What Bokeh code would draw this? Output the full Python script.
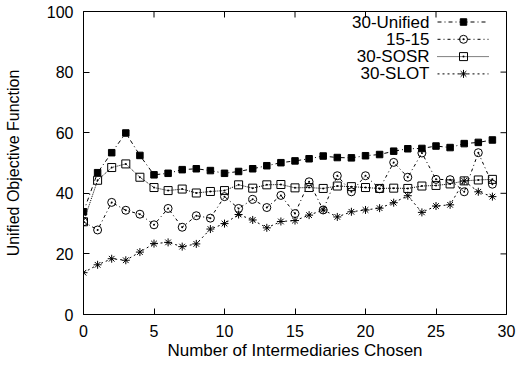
from bokeh.plotting import figure
from bokeh.models import Range1d, FixedTicker, Label
from bokeh.embed import file_html
from bokeh.resources import INLINE

# ---------------- data ----------------
x_vals = list(range(30))
series_names = ["30-Unified", "15-15", "30-SOSR", "30-SLOT"]
unified = [33.9, 46.8, 53.4, 59.9, 52.5, 46.1, 46.6, 47.8, 48.1, 47.5,
           46.6, 47.2, 48.1, 49.1, 50.1, 50.7, 51.4, 52.3, 51.8, 51.7,
           52.4, 52.8, 53.9, 54.7, 54.8, 55.6, 55.1, 56.4, 56.8, 57.6]
s15_15 = [30.6, 27.9, 37.0, 34.4, 33.1, 29.6, 35.0, 28.8, 32.6, 31.8,
          38.9, 35.0, 38.0, 35.3, 39.3, 33.3, 43.8, 34.5, 45.8, 40.5,
          45.8, 41.5, 50.2, 45.3, 53.3, 44.6, 44.5, 40.5, 53.4, 43.0]
sosr = [30.6, 44.3, 48.5, 49.7, 45.3, 41.9, 40.9, 41.4, 40.1, 40.6,
        40.9, 42.8, 41.7, 42.8, 42.9, 41.8, 41.9, 41.6, 42.4, 42.2,
        41.9, 41.6, 41.7, 41.6, 42.4, 42.6, 43.1, 44.1, 44.4, 44.6]
slot = [13.8, 16.4, 18.4, 17.9, 20.6, 23.4, 23.8, 22.4, 23.3, 28.2,
        30.0, 33.0, 31.2, 28.6, 30.7, 31.0, 32.8, 34.5, 32.2, 33.9,
        34.5, 35.1, 36.9, 39.2, 33.7, 35.8, 36.2, 44.1, 40.5, 38.9]
x_ticks = [0, 5, 10, 15, 20, 25, 30]
y_ticks = [0, 20, 40, 60, 80, 100]
x_title = "Number of Intermediaries Chosen"
y_title = "Unified Objective Function"

# ---------------- layout ----------------
W, H = 517, 371
BL, BR, BT, BB = 83, 11, 11, 57
X0, X1, Y0, Y1 = 0, 30, 0, 100
FONT = "Liberation Sans"
FS_TICK = "16px"
FS_TEXT = "17px"
TICK = 6

p = figure(width=W, height=H, output_backend="svg", toolbar_location=None,
           x_range=Range1d(X0, X1), y_range=Range1d(Y0, Y1),
           min_border_left=BL, min_border_right=BR, min_border_top=BT,
           min_border_bottom=BB)
p.background_fill_color = "white"
p.border_fill_color = "white"
p.grid.visible = False
p.outline_line_color = "black"
p.outline_line_width = 1
p.outline_line_alpha = 1

for ax, ticks in ((p.xaxis[0], x_ticks), (p.yaxis[0], y_ticks)):
    ax.ticker = FixedTicker(ticks=ticks)
    ax.major_tick_in = TICK
    ax.major_tick_out = 0
    ax.minor_tick_line_color = None
    ax.axis_line_color = "black"
    ax.major_tick_line_color = "black"
    ax.major_label_text_font = FONT
    ax.major_label_text_font_size = FS_TICK
    ax.major_label_text_color = "black"
    ax.axis_label_text_font = FONT
    ax.axis_label_text_font_style = "normal"
    ax.axis_label_text_color = "black"

p.xaxis[0].axis_label = x_title
p.yaxis[0].axis_label = y_title
p.xaxis[0].axis_label_text_font_size = FS_TEXT
p.yaxis[0].axis_label_text_font_size = "16px"
p.xaxis[0].major_label_standoff = 10
p.xaxis[0].axis_label_standoff = 1
p.yaxis[0].major_label_standoff = 10
p.yaxis[0].axis_label_standoff = 22

FW = W - BL - BR
FH = H - BT - BB
dx_tick = TICK / FW * (X1 - X0)
dy_tick = TICK / FH * (Y1 - Y0)

# mirrored inward ticks on the right and top edges
p.segment(x0=[X1] * len(y_ticks), y0=y_ticks,
          x1=[X1 - dx_tick] * len(y_ticks), y1=y_ticks,
          line_color="black", line_width=1)
p.segment(x0=x_ticks, y0=[Y1] * len(x_ticks),
          x1=x_ticks, y1=[Y1 - dy_tick] * len(x_ticks),
          line_color="black", line_width=1)

# ---------------- series ----------------
styles = [
    dict(dash="4 3 1 3", marker="square", size=6.5, fill="black"),
    dict(dash="3 3 1 3", marker="circle_dot", size=8, fill=None),
    dict(dash="1 1", marker="square_dot", size=8, fill=None),
    dict(dash="2 3", marker="asterisk", size=8, fill=None),
]
all_series = [unified, s15_15, sosr, slot]

for ys, st in zip(all_series, styles):
    p.line(x_vals, ys, line_color="black", line_width=1, line_dash=st["dash"])
    p.scatter(x_vals, ys, marker=st["marker"], size=st["size"],
              line_color="black", line_width=1, fill_color=st["fill"])

# ---------------- legend (label left, sample right) ----------------
def px_to_x(px):
    return X0 + (px - BL) / FW * (X1 - X0)

def py_to_y(py):
    return Y0 + (H - BB - py) / FH * (Y1 - Y0)

row0, row_step = 21.5, 17.3
text_right, samp_l, samp_r, samp_m = 429, 437, 488, 463
for i, (name, st) in enumerate(zip(series_names, styles)):
    yy = py_to_y(row0 + i * row_step)
    p.add_layout(Label(x=px_to_x(text_right), y=yy, text=name,
                       text_align="right", text_baseline="middle",
                       text_font=FONT, text_font_size=FS_TEXT,
                       text_color="black"))
    p.line([px_to_x(samp_l), px_to_x(samp_r)], [yy, yy], line_color="black",
           line_width=1, line_dash=st["dash"])
    p.scatter([px_to_x(samp_m)], [yy], marker=st["marker"], size=st["size"],
              line_color="black", line_width=1, fill_color=st["fill"])

open("out.html", "w").write(file_html(p, INLINE))
